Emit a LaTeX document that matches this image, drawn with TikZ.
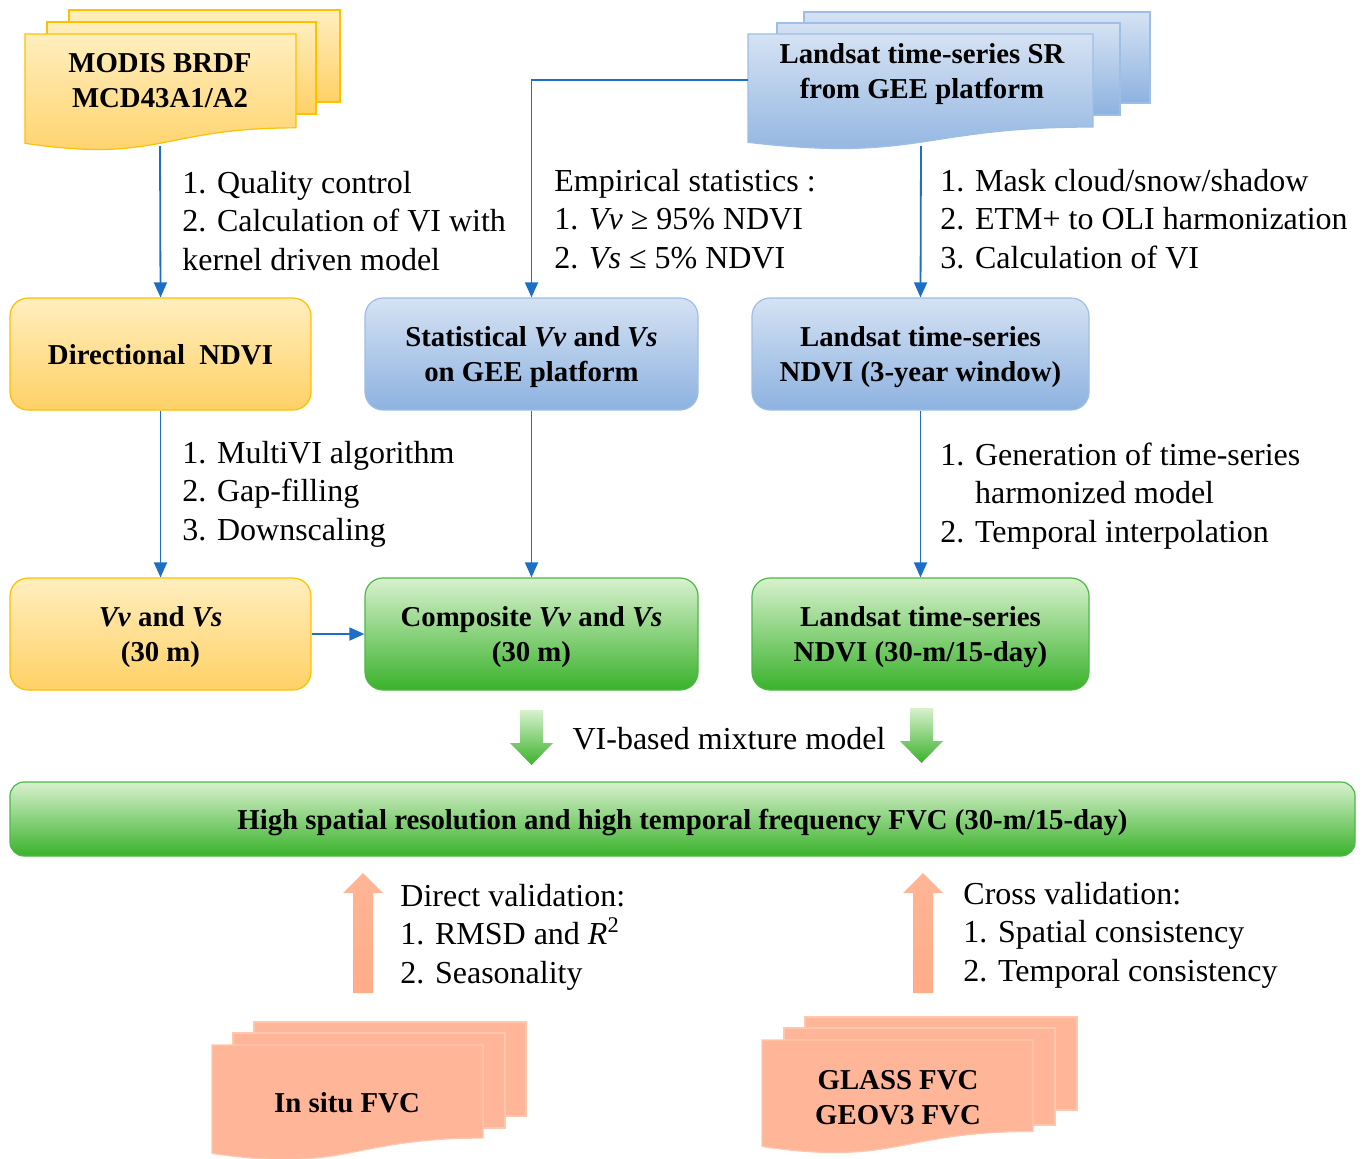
\documentclass[tikz,border=0pt]{standalone}
\usepackage{fontspec}
\setmainfont{Liberation Serif}
\usetikzlibrary{arrows.meta}

\definecolor{ytop}{HTML}{FFEEBE}
\definecolor{ybot}{HTML}{FFD166}
\definecolor{yline}{HTML}{FFC000}
\definecolor{btop}{HTML}{D5E2F3}
\definecolor{bbot}{HTML}{8DB2E0}
\definecolor{bline}{HTML}{9DBFE6}
\definecolor{gtop}{HTML}{D8F1CE}
\definecolor{gbot}{HTML}{3AB22B}
\definecolor{gline}{HTML}{4CB847}
\definecolor{saltop}{HTML}{FFB596}
\definecolor{salbot}{HTML}{FFAC88}
\definecolor{salfill}{HTML}{FFB597}
\definecolor{salline}{HTML}{FFC8AE}
\definecolor{linkblue}{HTML}{1C6FC6}

% one sheet of a document stack, wavy bottom
\newcommand{\docsheet}[5]{%
  \path[#1] (#2,#3) -- (#4,#3) -- (#4,{#3+0.802*#5})
    .. controls ({(#2+#4)/2},{#3+0.802*#5}) and ({(#2+#4)/2},{#3+1.107*#5})
    .. (#2,{#3+0.934*#5}) -- cycle;}

\begin{document}
\begin{tikzpicture}[x=0.5pt,y=-0.5pt,
  link/.style={draw=linkblue, line width=0.9pt, -{Triangle[length=7.5pt,width=6.5pt]}},
  box/.style={rounded corners=9pt, minimum height=56pt, align=center, line width=0.6pt,
    text depth=0pt, font=\bfseries\fontsize{14.4}{17.5}\selectfont},
  ybox/.style={box, draw=yline, top color=ytop, bottom color=ybot},
  bbox/.style={box, draw=bline, top color=btop, bottom color=bbot},
  gbox/.style={box, draw=gline, top color=gtop, bottom color=gbot},
  ysheet/.style={draw=yline, line width=0.6pt, top color=ytop, bottom color=ybot},
  bsheet/.style={draw=bline, line width=0.6pt, top color=btop, bottom color=bbot},
  ssheet/.style={draw=salline, line width=0.6pt, fill=salfill},
  garrow/.style={top color=gtop, bottom color=gbot},
  sarrow/.style={top color=saltop, bottom color=salbot},
  note/.style={align=left, inner sep=0pt, font=\fontsize{16}{19.2}\selectfont},
  doctext/.style={align=center, inner sep=0pt, font=\bfseries\fontsize{14.4}{17.5}\selectfont}]
  \useasboundingbox (0,0) rectangle (1364,1158);

  % document stacks
  \path[ysheet] (69,10) rectangle (340,102);
  \path[ysheet] (47,22) rectangle (316,114);
  \docsheet{ysheet}{25}{34}{296}{117}
  \node[doctext] (modis) at (160,81) {MODIS BRDF\\MCD43A1/A2};

  \path[bsheet] (804,12) rectangle (1150,103);
  \path[bsheet] (777,23) rectangle (1120,115);
  \docsheet{bsheet}{748}{34}{1093}{116}
  \node[doctext] (sr) at (922,74) {Landsat time-series SR\\from GEE platform};

  \path[ssheet] (254,1022) rectangle (526,1116);
  \path[ssheet] (233,1033) rectangle (505,1128);
  \docsheet{ssheet}{212}{1045}{483}{116}
  \node[doctext] (insitu) at (347,1103) {In situ FVC};

  \path[ssheet] (805,1017) rectangle (1077,1110);
  \path[ssheet] (784,1028) rectangle (1055,1125);
  \docsheet{ssheet}{762}{1040}{1033}{114}
  \node[doctext] (glass) at (898,1098) {GLASS FVC\\GEOV3 FVC};

  % boxes
  \node[ybox, minimum width=150.5pt] (dir) at (160.5,354) {Directional\ \ NDVI};
  \node[bbox, minimum width=166.5pt] (stat) at (531.5,354) {Statistical \textit{Vv} and \textit{Vs}\\on GEE platform};
  \node[bbox, minimum width=168.5pt] (lnd) at (920.5,354) {Landsat time-series\\NDVI (3-year window)};
  \node[ybox, minimum width=150.5pt] (vv) at (160.5,634) {\textit{Vv} and \textit{Vs}\\(30 m)};
  \node[gbox, minimum width=166.5pt] (comp) at (531.5,634) {Composite \textit{Vv} and \textit{Vs}\\(30 m)};
  \node[gbox, minimum width=168.5pt] (lnd30) at (920.5,634) {Landsat time-series\\NDVI (30-m/15-day)};
  \node[gbox, rounded corners=7pt, minimum width=672.5pt, minimum height=37pt] (fvc) at (682.5,819)
    {High spatial resolution and high temporal frequency FVC (30-m/15-day)};

  % connectors
  \coordinate (modisb) at (160,146);
  \coordinate (srl) at (748,80);
  \coordinate (srb) at (921,146);
  \draw[link] (modisb) -- (dir.north);
  \draw[link] (srl) -| (stat.north);
  \draw[link] (srb) -- (lnd.north);
  \draw[link] (dir.south) -- (vv.north);
  \draw[link] (stat.south) -- (comp.north);
  \draw[link] (lnd.south) -- (lnd30.north);
  \draw[link] (vv.east) -- (comp.west);

  % block arrows
  \path[garrow] (520,710) -- (543,710) -- (543,743) -- (553,743) -- (531.5,765) -- (510,743) -- (520,743) -- cycle;
  \path[garrow] (910,708) -- (933,708) -- (933,741) -- (943,741) -- (921.5,763) -- (900,741) -- (910,741) -- cycle;
  \path[sarrow] (353,993) -- (373,993) -- (373,893) -- (383,893) -- (363,873) -- (343,893) -- (353,893) -- cycle;
  \path[sarrow] (913,993) -- (933,993) -- (933,893) -- (943,893) -- (923,873) -- (903,893) -- (913,893) -- cycle;

  % notes
  \node[note, anchor=west] (qc) at (182,221) {1. Quality control\\2. Calculation of VI with\\kernel driven model};
  \node[note, anchor=west] (emp) at (554,219) {Empirical statistics :\\1. \textit{Vv} ≥ 95\% NDVI\\2. \textit{Vs} ≤ 5\% NDVI};
  \node[note, anchor=west] (mask) at (940,219) {1. Mask cloud/snow/shadow\\2. ETM+ to OLI harmonization\\3. Calculation of VI};
  \node[note, anchor=west] (multi) at (182,494) {1. MultiVI algorithm\\2. Gap-filling\\3. Downscaling};
  \node[note, anchor=west] (gen) at (940,496) {1. Generation of time-series\\\phantom{1. }harmonized model\\2. Temporal interpolation};
  \node[note] (mix) at (729,739) {VI-based mixture model};
  \node[note, anchor=west] (direct) at (400,937) {Direct validation:\\1. RMSD and \textit{R}\textsuperscript{2}\\2. Seasonality};
  \node[note, anchor=west] (cross) at (963,935) {Cross validation:\\1. Spatial consistency\\2. Temporal consistency};
\end{tikzpicture}
\end{document}
